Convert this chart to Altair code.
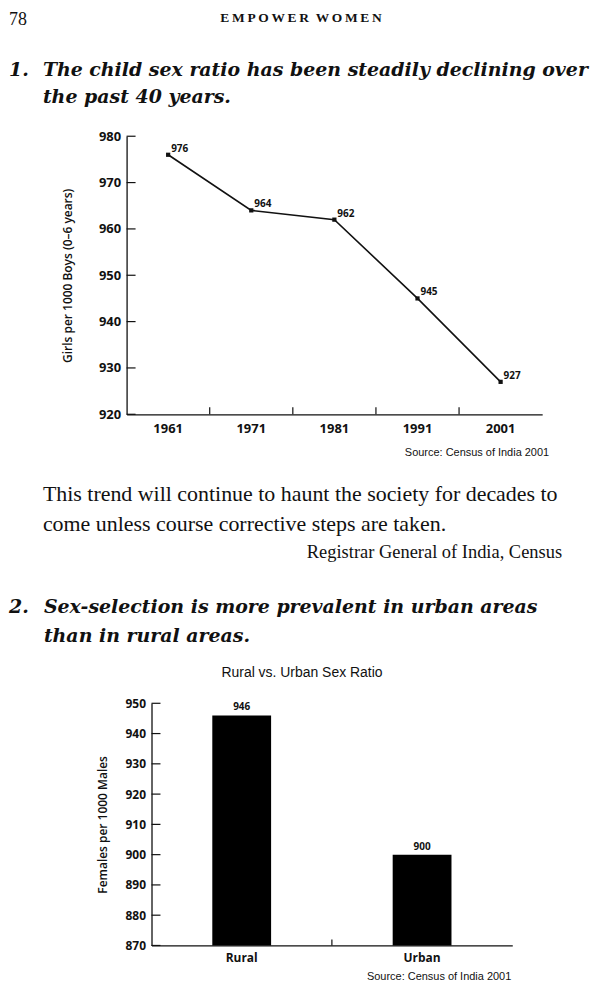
import altair as alt
import pandas as pd

# ---- data ----
years = ["1961", "1971", "1981", "1991", "2001"]
child_ratio = [976, 964, 962, 945, 927]
y1_ticks = [920, 930, 940, 950, 960, 970, 980]

areas = ["Rural", "Urban"]
area_ratio = [946, 900]
y2_ticks = [870, 880, 890, 900, 910, 920, 930, 940, 950]

SERIF = "Liberation Serif"
HEAD = "DejaVu Serif"
SANS = "Open Sans"
ARIAL = "Liberation Sans"
INK = "#111111"
PAGE_W = 584

one = pd.DataFrame({"k": [0]})


def txt(s, x, y, size, font=SERIF, weight="normal", style="normal", align="left"):
    return alt.Chart(one).mark_text(
        text=s, font=font, fontSize=size, fontWeight=weight, fontStyle=style,
        align=align, baseline="alphabetic", color=INK,
    ).encode(x=alt.value(x), y=alt.value(y))


def head(s, x, y):
    return txt(s, x, y, 19, font=HEAD, weight="bold", style="italic")


# ---- row 1: page header and headline 1 ----
TS = "\u2009"
header = TS.join("EMPOWER") + "\u2002" + TS.join("WOMEN")
r1 = alt.layer(
    txt("78", 0, 14, 18),
    txt(header, 293, 11, 13.5, weight="bold", align="center"),
    head("1.", 0, 66),
    head("The child sex ratio has been steadily declining over", 34, 66),
    head("the past 40 years.", 34, 93),
).properties(width=PAGE_W, height=126)

# ---- row 2: line chart ----
L1, W1, H1 = 118, 417, 279
df1 = pd.DataFrame({"year": years, "ratio": child_ratio})
x1 = alt.X("year:O", bandPosition=0.5,
           scale=alt.Scale(type="band", paddingInner=0, paddingOuter=0, range=[L1, L1 + W1]),
           axis=alt.Axis(title=None, labelAngle=0, tickSize=0, labelPadding=8,
                         labelFont=SANS, labelFontWeight="bold", labelFontSize=13,
                         domainColor=INK, domainWidth=1.3, labelColor=INK))
y1 = alt.Y("ratio:Q", scale=alt.Scale(domain=[920, 980], nice=False, zero=False),
           axis=alt.Axis(values=y1_ticks, tickSize=0, labelPadding=6, grid=False, offset=-L1,
                         labelOverlap=False,
                         title="Girls per 1000 Boys (0\u20136 years)", titlePadding=24,
                         titleFont=SANS, titleFontWeight=600, titleFontSize=12,
                         labelFont=SANS, labelFontWeight="bold", labelFontSize=13,
                         domainColor=INK, domainWidth=1.3, labelColor=INK, titleColor=INK))
base1 = alt.Chart(df1).encode(x=x1, y=y1)
line1 = base1.mark_line(color=INK, strokeWidth=1.6)
pts1 = base1.mark_square(color=INK, size=18, opacity=1)
lab1 = base1.mark_text(align="left", baseline="alphabetic", dx=3, dy=-3, font=SANS,
                       fontWeight="bold", fontSize=10, color=INK).encode(text="ratio:Q")
xt1 = alt.Chart(pd.DataFrame({"year": years[1:]})).mark_rule(color=INK, strokeWidth=1.2).encode(
    x=alt.X("year:O", bandPosition=0), y=alt.value(H1), y2=alt.value(H1 - 7))
yt1 = alt.Chart(pd.DataFrame({"ratio": y1_ticks})).mark_rule(color=INK, strokeWidth=1.2).encode(
    y=alt.Y("ratio:Q"), x=alt.value(L1), x2=alt.value(L1 + 9))
src1 = txt("Source: Census of India 2001", L1 + W1 + 7, H1 + 42, 11, font=ARIAL, align="right")
r2 = alt.layer(line1, pts1, lab1, xt1, yt1, src1).properties(width=PAGE_W, height=H1)

# ---- row 3: quote and headline 2 ----
r3 = alt.layer(
    txt("This trend will continue to haunt the society for decades to", 34, 87, 22),
    txt("come unless course corrective steps are taken.", 34, 117, 22),
    txt("Registrar General of India, Census", 555, 144, 18.5, align="right"),
    head("2.", 0, 199),
    head("Sex-selection is more prevalent in urban areas", 35, 199),
    head("than in rural areas.", 35, 228),
    txt("Rural vs. Urban Sex Ratio", 294, 264, 14, font=ARIAL, align="center"),
).properties(width=PAGE_W, height=290)

# ---- row 4: bar chart ----
L2, W2, H2 = 143, 362, 243
df2 = pd.DataFrame({"area": areas, "ratio": area_ratio})
x2 = alt.X("area:N", sort=areas,
           scale=alt.Scale(type="band", paddingInner=0, paddingOuter=0, range=[L2, L2 + W2]),
           axis=alt.Axis(title=None, labelAngle=0, tickSize=0, labelPadding=7,
                         labelFont=SANS, labelFontWeight="bold", labelFontSize=12,
                         domainColor=INK, domainWidth=1.3, labelColor=INK))
y2 = alt.Y("ratio:Q", scale=alt.Scale(domain=[y2_ticks[0], y2_ticks[-1]], nice=False, zero=False),
           axis=alt.Axis(values=y2_ticks, tickCount=len(y2_ticks), tickSize=0, labelPadding=6,
                         grid=False, offset=-L2, labelOverlap=False, labelSeparation=0,
                         title="Females per 1000 Males", titlePadding=16,
                         titleFont=SANS, titleFontWeight=600, titleFontSize=12,
                         labelFont=SANS, labelFontWeight="bold", labelFontSize=12,
                         domainColor=INK, domainWidth=1.3, labelColor=INK, titleColor=INK))
base2 = alt.Chart(df2).encode(x=x2, y=y2)
bars = base2.mark_bar(size=59, color="#000000").encode(y2=alt.datum(y2_ticks[0]))
lab2 = base2.mark_text(baseline="alphabetic", dy=-5, font=SANS, fontWeight="bold",
                       fontSize=10, color=INK).encode(text="ratio:Q")
xt2 = alt.Chart(pd.DataFrame({"area": areas[1:]})).mark_rule(color=INK, strokeWidth=1.2).encode(
    x=alt.X("area:N", sort=areas, bandPosition=0), y=alt.value(H2), y2=alt.value(H2 - 6))
yt2 = alt.Chart(pd.DataFrame({"ratio": y2_ticks})).mark_rule(color=INK, strokeWidth=1.2).encode(
    y=alt.Y("ratio:Q"), x=alt.value(L2), x2=alt.value(L2 + 9))
src2 = txt("Source: Census of India 2001", L2 + W2 - 1, H2 + 35, 11, font=ARIAL, align="right")
r4 = alt.layer(bars, lab2, xt2, yt2, src2).properties(width=PAGE_W, height=H2)

chart = alt.vconcat(r1, r2, r3, r4, spacing=0, bounds="flush").properties(
    padding=0, background="white"
).configure_view(stroke="transparent").configure_axis(labelOverlap=False)

chart.save("out.html", embed_options={"renderer": "svg", "actions": False})
